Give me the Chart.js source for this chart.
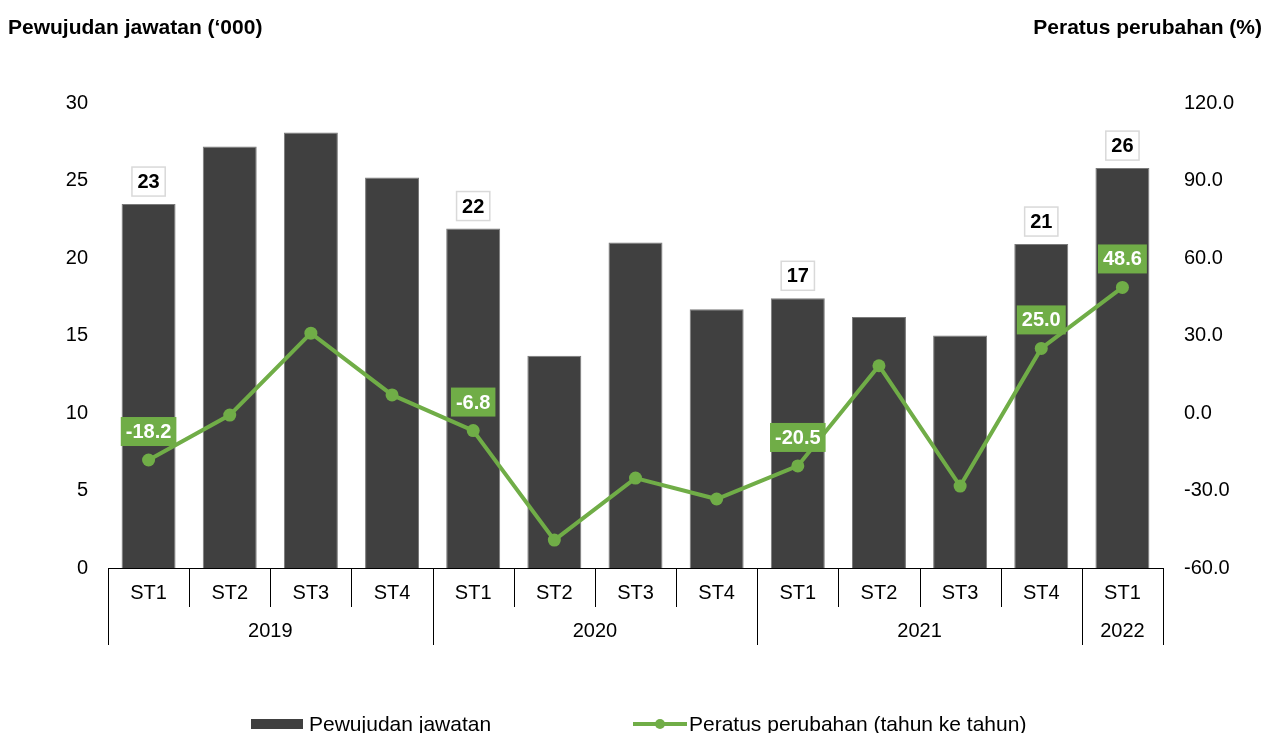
<!DOCTYPE html>
<html>
<head>
<meta charset="utf-8">
<script src="https://cdn.jsdelivr.net/npm/chart.js@4"></script>
<style>
  html, body { margin: 0; padding: 0; background: #fff; }
  #wrap { width: 1265px; height: 733px; position: relative; }
</style>
</head>
<body>
<div id="wrap"><canvas id="chart" width="1265" height="733"></canvas></div>
<script>
// --- Data ---
const quarters = ['ST1', 'ST2', 'ST3', 'ST4', 'ST1', 'ST2', 'ST3', 'ST4', 'ST1', 'ST2', 'ST3', 'ST4', 'ST1'];
const years = ['2019', '2020', '2021', '2022'];
const yearSpans = [4, 4, 4, 1];
const jobsCreated = [23.48, 27.2, 28.1, 25.2, 21.9, 13.7, 21.0, 16.7, 17.4, 16.2, 15.0, 20.9, 25.8];
const pctChange = [-18.2, -0.8, 30.9, 7.0, -6.8, -49.2, -25.2, -33.3, -20.5, 18.3, -28.3, 25.0, 48.6];
const labelledIdx = [0, 4, 8, 11, 12];
const leftTicks = { min: 0, max: 30, step: 5 };
const rightTicks = { min: -60, max: 120, step: 30 };

const FONT = '"Liberation Sans", Arial, sans-serif';
const GREEN = '#70AD47';
const BAR = '#404040';

// --- Extra drawing: titles, multi-level axis, data labels, legend ---
const decorPlugin = {
  id: 'decor',
  afterDraw(chart) {
    const ctx = chart.ctx;
    const x = chart.scales.x;
    const area = chart.chartArea;
    ctx.save();

    // axis titles
    ctx.fillStyle = '#000';
    ctx.font = 'bold 21px ' + FONT;
    ctx.textBaseline = 'alphabetic';
    ctx.textAlign = 'left';
    ctx.fillText('Pewujudan jawatan (\u2018000)', 8, 34);
    ctx.textAlign = 'right';
    ctx.fillText('Peratus perubahan (%)', 1262, 34);

    // category row + year row
    const step = (area.right - area.left) / quarters.length;
    ctx.strokeStyle = '#000';
    ctx.lineWidth = 1;
    ctx.font = '20px ' + FONT;
    ctx.textAlign = 'center';
    ctx.textBaseline = 'middle';
    quarters.forEach((q, i) => {
      ctx.fillText(q, x.getPixelForValue(i), 593);
    });
    let yearStarts = [0];
    yearSpans.forEach(s => yearStarts.push(yearStarts[yearStarts.length - 1] + s));
    for (let i = 0; i <= quarters.length; i++) {
      const px = Math.round(area.left + i * step) + 0.5;
      const isYear = yearStarts.includes(i);
      ctx.beginPath();
      ctx.moveTo(px, area.bottom);
      ctx.lineTo(px, isYear ? 645 : 607);
      ctx.stroke();
    }
    years.forEach((yr, k) => {
      const cx = area.left + (yearStarts[k] + yearSpans[k] / 2) * step;
      ctx.fillText(yr, cx, 631);
    });

    // data labels
    const barMeta = chart.getDatasetMeta(1);
    const lineMeta = chart.getDatasetMeta(0);
    ctx.font = 'bold 20px ' + FONT;
    labelledIdx.forEach(i => {
      const bar = barMeta.data[i];
      const txt = String(Math.round(jobsCreated[i]));
      const w = ctx.measureText(txt).width + 11;
      const h = 29;
      const bx = bar.x - w / 2, by = bar.y - 8 - h;
      ctx.fillStyle = '#fff';
      ctx.fillRect(bx, by, w, h);
      ctx.strokeStyle = '#d9d9d9';
      ctx.lineWidth = 1.5;
      ctx.strokeRect(bx, by, w, h);
      ctx.fillStyle = '#000';
      ctx.fillText(txt, bar.x, by + h / 2 + 1);

      const pt = lineMeta.data[i];
      const t2 = pctChange[i].toFixed(1);
      const w2 = ctx.measureText(t2).width + 10;
      const by2 = pt.y - 14 - h;
      ctx.fillStyle = GREEN;
      ctx.fillRect(pt.x - w2 / 2, by2, w2, h);
      ctx.fillStyle = '#fff';
      ctx.fillText(t2, pt.x, by2 + h / 2 + 1);
    });

    // legend
    ctx.font = '21px ' + FONT;
    ctx.textAlign = 'left';
    ctx.textBaseline = 'alphabetic';
    ctx.fillStyle = BAR;
    ctx.fillRect(251, 719, 52, 10);
    ctx.fillStyle = '#000';
    ctx.fillText('Pewujudan jawatan', 309, 731);
    ctx.strokeStyle = GREEN;
    ctx.lineWidth = 4;
    ctx.beginPath();
    ctx.moveTo(633, 724);
    ctx.lineTo(687, 724);
    ctx.stroke();
    ctx.fillStyle = GREEN;
    ctx.beginPath();
    ctx.arc(660, 724, 5, 0, Math.PI * 2);
    ctx.fill();
    ctx.fillStyle = '#000';
    ctx.fillText('Peratus perubahan (tahun ke tahun)', 689, 731);

    ctx.restore();
  }
};

new Chart(document.getElementById('chart'), {
  data: {
    labels: quarters,
    datasets: [
      {
        type: 'line',
        label: 'Peratus perubahan (tahun ke tahun)',
        data: pctChange,
        yAxisID: 'y1',
        borderColor: GREEN,
        backgroundColor: GREEN,
        borderWidth: 4,
        pointRadius: 6.5,
        pointBackgroundColor: GREEN,
        pointBorderWidth: 0,
        tension: 0,
        order: 0
      },
      {
        type: 'bar',
        label: 'Pewujudan jawatan',
        data: jobsCreated,
        yAxisID: 'y',
        backgroundColor: BAR,
        borderColor: '#7a7a7a',
        borderWidth: 1,
        barPercentage: 0.665,
        categoryPercentage: 1,
        order: 1
      }
    ]
  },
  options: {
    responsive: false,
    animation: false,
    layout: { padding: { top: 103, left: 0, right: 0, bottom: 0 } },
    plugins: { legend: { display: false }, tooltip: { enabled: false } },
    scales: {
      x: {
        grid: { display: false, drawTicks: false },
        border: { display: true, color: '#000', width: 1 },
        ticks: { display: false },
        afterFit(s) { s.height = 165; }
      },
      y: {
        position: 'left',
        min: leftTicks.min, max: leftTicks.max,
        grid: { display: false, drawTicks: false },
        border: { display: false },
        ticks: { stepSize: leftTicks.step, padding: 20, color: '#000', font: { family: FONT, size: 20 } },
        afterFit(s) { s.width = 108; }
      },
      y1: {
        position: 'right',
        min: rightTicks.min, max: rightTicks.max,
        grid: { display: false, drawTicks: false },
        border: { display: false },
        ticks: {
          stepSize: rightTicks.step, padding: 21, color: '#000',
          font: { family: FONT, size: 20 },
          callback: v => v.toFixed(1)
        },
        afterFit(s) { s.width = 102; }
      }
    }
  },
  plugins: [decorPlugin]
});
</script>
</body>
</html>
